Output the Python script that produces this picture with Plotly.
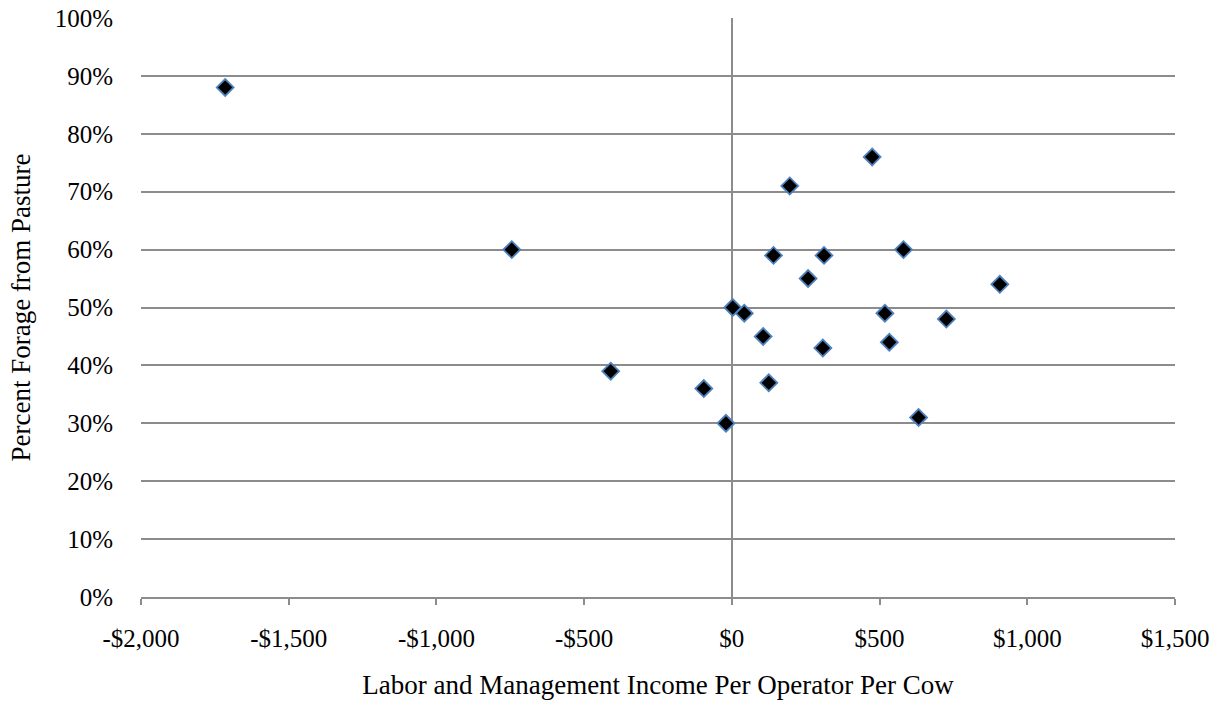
import plotly.graph_objects as go

# Labor and management income per operator per cow (USD)
income = [-1715, -745, -410, -95, -20, 3, 42, 106, 125, 141, 258, 312,
          308, 518, 533, 475, 196, 581, 907, 726, 632]
# Share of forage coming from pasture (%)
pasture_pct = [88, 60, 39, 36, 30, 50, 49, 45, 37, 59, 55, 59,
               43, 49, 44, 76, 71, 60, 54, 48, 31]

x_ticks = [-2000, -1500, -1000, -500, 0, 500, 1000, 1500]
x_labels = ["-$2,000", "-$1,500", "-$1,000", "-$500", "$0", "$500", "$1,000", "$1,500"]
y_ticks = list(range(0, 101, 10))
y_labels = [f"{v}%" for v in y_ticks]

FONT = "Liberation Serif, Times New Roman, serif"
GRID = "#8c8c8c"
TICK_SIZE = 25
TITLE_SIZE = 27

fig = go.Figure(
    go.Scatter(
        x=income,
        y=pasture_pct,
        mode="markers",
        marker=dict(symbol="diamond", size=13, color="black",
                    line=dict(color="#4f81bd", width=1.8)),
        hoverinfo="x+y",
    )
)

fig.update_layout(
    width=1225,
    height=706,
    paper_bgcolor="white",
    plot_bgcolor="white",
    margin=dict(l=141, r=50, t=17.5, b=108.5),
    showlegend=False,
    font=dict(family=FONT, size=TICK_SIZE, color="black"),
)

fig.update_xaxes(
    range=[-2000, 1500],
    tickvals=x_ticks,
    ticktext=x_labels,
    showgrid=False,
    zeroline=True,
    zerolinecolor=GRID,
    zerolinewidth=1.6,
    showline=True,
    linecolor=GRID,
    linewidth=1.6,
    ticks="outside",
    ticklen=6,
    tickwidth=1.6,
    tickcolor=GRID,
    ticklabelstandoff=12,
    tickfont=dict(family=FONT, size=TICK_SIZE),
    automargin=False,
    title=dict(text="Labor and Management Income Per Operator Per Cow",
               font=dict(family=FONT, size=TITLE_SIZE), standoff=24),
)

fig.update_yaxes(
    range=[0, 100],
    tickvals=y_ticks,
    ticktext=y_labels,
    showgrid=True,
    gridcolor=GRID,
    gridwidth=1.6,
    zeroline=False,
    showline=False,
    ticks="",
    ticklabelstandoff=27,
    tickfont=dict(family=FONT, size=TICK_SIZE),
    automargin=False,
    title=dict(text="Percent Forage from Pasture",
               font=dict(family=FONT, size=TITLE_SIZE), standoff=16),
)

fig.write_html("out.html")
